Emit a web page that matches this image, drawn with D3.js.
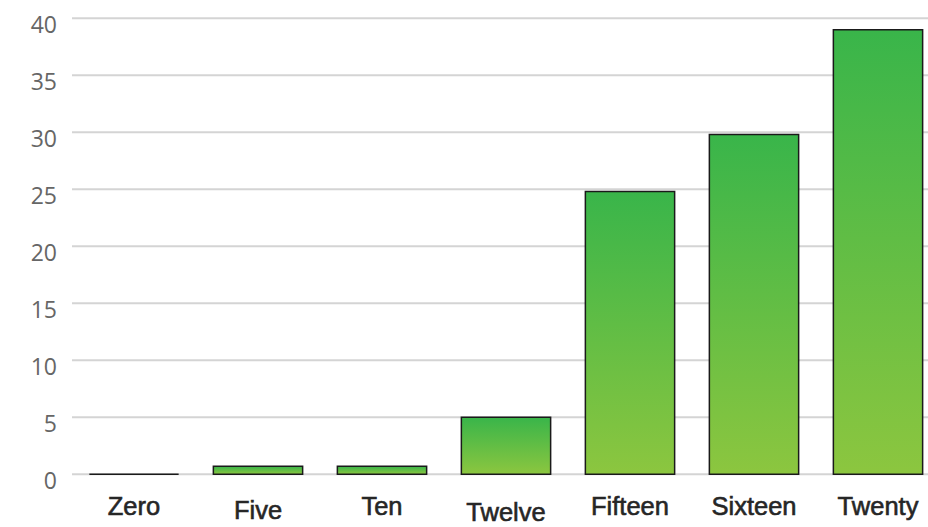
<!DOCTYPE html>
<html>
<head>
<meta charset="utf-8">
<script src="https://cdn.jsdelivr.net/npm/d3@7"></script>
<style>
  html, body { margin: 0; padding: 0; background: #fff; }
  svg { display: block; }
</style>
</head>
<body>
<svg id="chart" width="928" height="527"></svg>
<script>
// ---- data ----
const categories = ["Zero", "Five", "Ten", "Twelve", "Fifteen", "Sixteen", "Twenty"];
const values = [0, 0.7, 0.7, 5, 24.8, 29.8, 39];
const yTicks = [0, 5, 10, 15, 20, 25, 30, 35, 40];

// ---- layout / style ----
const W = 928, H = 527;
const plot = { left: 72, right: 940, top: 18.3, bottom: 474.3 };
// small vertical nudges of the category labels seen in the reference
const labelNudge = { Five: 4, Twelve: 6 };

const svg = d3.select("#chart");

const x = d3.scaleBand()
  .domain(categories)
  .range([plot.left, plot.right])
  .paddingInner(0.28)
  .paddingOuter(0.14);

const y = d3.scaleLinear()
  .domain([0, 40])
  .range([plot.bottom, plot.top]);

const defs = svg.append("defs");
const grad = defs.append("linearGradient")
  .attr("id", "barGrad")
  .attr("x1", 0).attr("y1", 0).attr("x2", 0).attr("y2", 1);
grad.append("stop").attr("offset", "0%").attr("stop-color", "#39b54a");
grad.append("stop").attr("offset", "100%").attr("stop-color", "#8cc63f");

// gridlines
svg.append("g")
  .selectAll("line")
  .data(yTicks)
  .join("line")
  .attr("x1", plot.left)
  .attr("x2", plot.right)
  .attr("y1", d => y(d))
  .attr("y2", d => y(d))
  .attr("stroke", "#d4d4d4")
  .attr("stroke-width", 2);

// y axis labels
const yAxis = d3.axisLeft(y).tickValues(yTicks).tickSize(0).tickPadding(0);
const yg = svg.append("g")
  .attr("transform", `translate(${plot.left - 15},0)`)
  .call(yAxis);
yg.select(".domain").remove();
yg.selectAll("text")
  .attr("fill", "#666")
  .attr("dy", "0.6em")
  .style("font-family", "'Open Sans', 'Noto Sans', sans-serif")
  .style("font-size", "23px");

// bars
svg.append("g")
  .selectAll("path")
  .data(categories.map((c, i) => ({ c, v: values[i] })))
  .join("path")
  .attr("d", d => {
    const p = d3.path();
    const x0 = x(d.c), w = x.bandwidth();
    const y0 = y(d.v), y1 = y(0);
    p.moveTo(x0, y1);
    p.lineTo(x0, y0);
    p.lineTo(x0 + w, y0);
    p.lineTo(x0 + w, y1);
    p.closePath();
    return p.toString();
  })
  .attr("fill", d => d.v > 0 ? "url(#barGrad)" : "none")
  .attr("stroke", "#1a1a1a")
  .attr("stroke-width", 1.5);

// x axis labels
const xAxis = d3.axisBottom(x).tickSize(0).tickPadding(0);
const xg = svg.append("g")
  .attr("transform", `translate(0,${plot.bottom})`)
  .call(xAxis);
xg.select(".domain").remove();
xg.selectAll("text")
  .attr("y", d => 41 + (labelNudge[d] || 0))
  .attr("dy", 0)
  .attr("fill", "#262626")
  .attr("stroke", "#262626")
  .attr("stroke-width", 0.6)
  .style("font-family", "'Liberation Sans', Arial, sans-serif")
  .style("font-weight", "normal")
  .style("font-size", "25.5px");
</script>
</body>
</html>
